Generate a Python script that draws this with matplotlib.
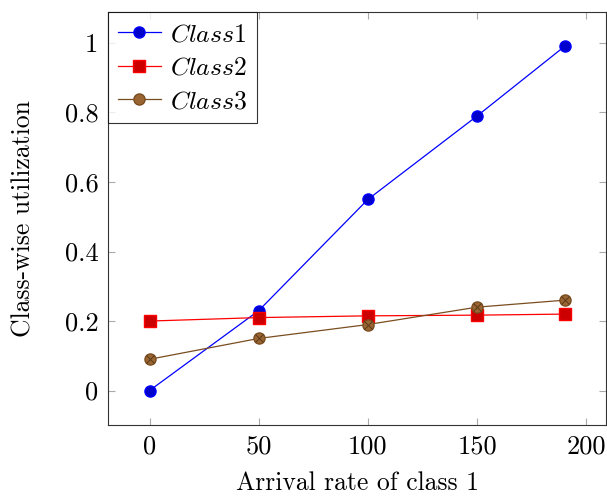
import matplotlib
matplotlib.use("Agg")
import matplotlib.pyplot as plt

x = [0, 50, 100, 150, 190]
class1 = [0.0, 0.23, 0.55, 0.79, 0.99]
class2 = [0.20, 0.21, 0.215, 0.217, 0.22]
class3 = [0.09, 0.15, 0.19, 0.24, 0.26]
labels = ["$Class1$", "$Class2$", "$Class3$"]
xticks = [0, 50, 100, 150, 200]
yticks = [0, 0.2, 0.4, 0.6, 0.8, 1.0]
yticklabels = ["0", "0.2", "0.4", "0.6", "0.8", "1"]

plt.rcParams["font.family"] = "serif"
plt.rcParams["font.serif"] = ["cmr10", "DejaVu Serif"]
plt.rcParams["mathtext.fontset"] = "cm"
plt.rcParams["axes.formatter.use_mathtext"] = True

fig = plt.figure(figsize=(6.07, 4.96), dpi=100)
ax = fig.add_axes([108/607, 71/496, 498/607, 413/496])

ax.plot(x, class1, color="#0000ff", lw=0.9, marker="o", ms=8,
        markerfacecolor="#0000cc", markeredgecolor="#0000ff", label=labels[0])
ax.plot(x, class2, color="#ff0000", lw=0.9, marker="s", ms=8,
        markerfacecolor="#cc0000", markeredgecolor="#ff0000", label=labels[1])
ax.plot(x, class3, color="#7a4d20", lw=0.9, marker="o", ms=8,
        markerfacecolor="#996633", markeredgecolor="#7a4d20", label=labels[2])
ax.plot(x, class3, ls="none", marker="x", ms=5.5, mew=0.7, color="#5a3a18")

ax.set_xlim(-19, 209)
ax.set_ylim(-0.099, 1.089)
ax.set_xticks(xticks)
ax.set_xticklabels([str(t) for t in xticks])
ax.set_yticks(yticks)
ax.set_yticklabels(yticklabels)
ax.tick_params(direction="in", length=5, width=0.8, color="#aaaaaa",
               top=True, right=True, labelsize=19, pad=7)
for s in ax.spines.values():
    s.set_linewidth(0.8)
    s.set_color("#333333")

ax.set_xlabel("Arrival rate of class 1", fontsize=18.5, labelpad=9)
ax.set_ylabel("Class-wise utilization", fontsize=18.5, labelpad=21)

leg = ax.legend(loc="upper left", fontsize=18.5, frameon=True, fancybox=False,
                edgecolor="black", borderaxespad=0, handlelength=1.65,
                borderpad=0.4, labelspacing=0.38, handletextpad=0.35)
leg.get_frame().set_linewidth(0.8)

fig.savefig("out.png", dpi=100)
